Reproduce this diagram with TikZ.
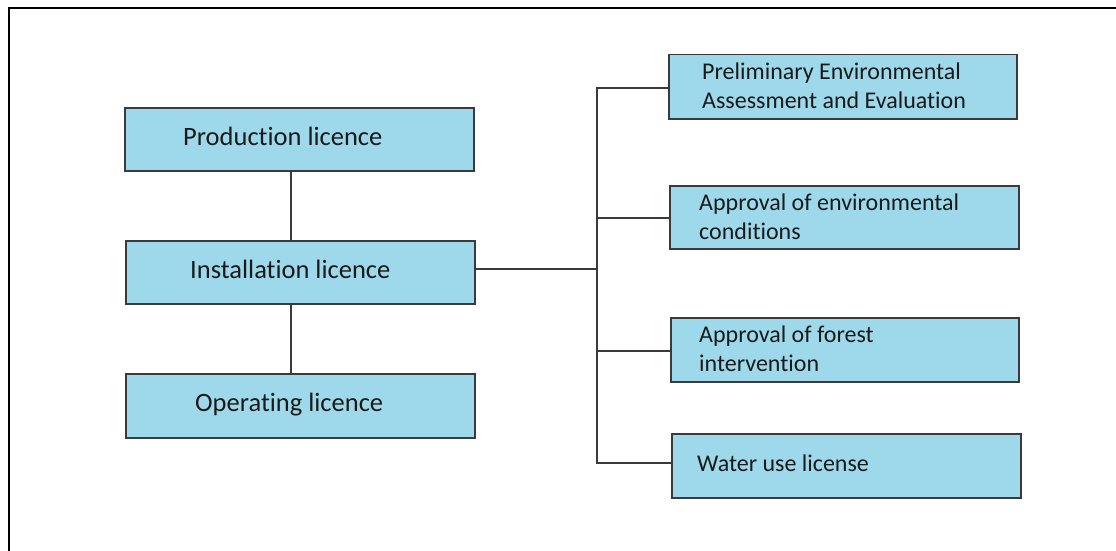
\documentclass[tikz,border=0pt]{standalone}
\usepackage{fontspec}
\setmainfont[Ligatures=NoCommon]{Carlito}
\definecolor{boxfill}{HTML}{9DD9EA}
\definecolor{boxline}{HTML}{3A3A3A}
\definecolor{txt}{HTML}{1A1A1A}
\begin{document}
\begin{tikzpicture}[x=1pt,y=-1pt,
  lic/.style={draw=boxline,fill=boxfill,line width=1.5pt,inner sep=0pt,anchor=north west},
  conn/.style={draw=boxline,line width=1.2pt},
  bigtxt/.style={anchor=base west,inner sep=0pt,text=txt,font=\fontsize{26.5}{32}\selectfont},
  smalltxt/.style={anchor=base west,inner sep=0pt,text=txt,font=\fontsize{24}{29}\selectfont}]
\useasboundingbox (0,0) rectangle (1116,551);
\clip (0,0) rectangle (1116,551);
\fill[white] (0,0) rectangle (1116,551);
\draw[line width=2.2pt,black] (9,8) rectangle (1140,580);
% left boxes
\node[lic,minimum width=349pt,minimum height=63pt] (prod) at (124,107) {};
\node[lic,minimum width=349pt,minimum height=63pt] (inst) at (125,240) {};
\node[lic,minimum width=349pt,minimum height=64pt] (oper) at (125,373) {};
\node[bigtxt] (tprod) at (183,145) {Production licence};
\node[bigtxt] (tinst) at (190,278) {Installation licence};
\node[bigtxt] (toper) at (195,411) {Operating licence};
% right boxes
\node[lic,minimum width=348pt,minimum height=64pt] (prel) at (668,54) {};
\node[lic,minimum width=349pt,minimum height=63pt] (envc) at (669,185) {};
\node[lic,minimum width=348pt,minimum height=64pt] (fore) at (670,317) {};
\node[lic,minimum width=349pt,minimum height=64pt] (watr) at (671,433) {};
\node[smalltxt] (tprel1) at (702,79) {Preliminary Environmental};
\node[smalltxt] (tprel2) at (702,108) {Assessment and Evaluation};
\node[smalltxt] (tenv1) at (699,210) {Approval of environmental};
\node[smalltxt] (tenv2) at (699,239) {conditions};
\node[smalltxt] (tfor1) at (699,342) {Approval of forest};
\node[smalltxt] (tfor2) at (699,371) {intervention};
\node[smalltxt] (twat) at (697,471) {Water use license};
% connectors
\coordinate (lx) at (291,0);
\coordinate (trunkmid) at (597,269);
\coordinate (trunktop) at (597,88);
\coordinate (trunkbot) at (597,463);
\draw[conn] (prod.south -| lx) -- (inst.north -| lx);
\draw[conn] (inst.south -| lx) -- (oper.north -| lx);
\draw[conn] (inst.east |- trunkmid) -- (trunkmid);
\draw[conn] (prel.west |- trunktop) -- (trunktop) -- (trunkbot) -- (watr.west |- trunkbot);
\draw[conn] (597,218) -- (envc.west |- 0,218);
\draw[conn] (597,351) -- (fore.west |- 0,351);
\end{tikzpicture}
\end{document}
